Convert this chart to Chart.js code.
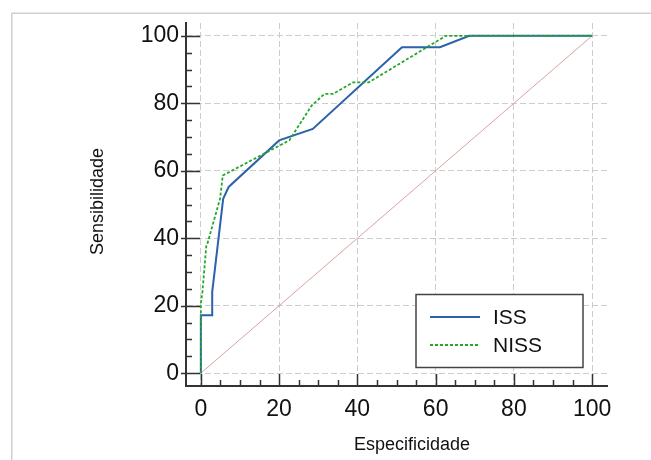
<!DOCTYPE html>
<html><head><meta charset="utf-8">
<script src="https://cdn.jsdelivr.net/npm/chart.js@4/dist/chart.umd.min.js"></script>
<style>html,body{margin:0;padding:0;background:#fff;overflow:hidden}canvas{display:block}</style>
</head><body>
<canvas id="c" width="651" height="460"></canvas>
<script>
// ROC data (x axis "Especificidade", y axis "Sensibilidade")
const issX  = [0, 0, 2.9, 2.9, 3.4, 5.7, 7.1, 20, 28.6, 51.4, 61.1, 68.6, 100];
const issY  = [0, 17.2, 17.2, 24.1, 29, 51.7, 55.2, 69, 72.4, 96.6, 96.6, 100, 100];
const nissX = [0, 0, 0.4, 1.4, 1.7, 4.9, 5.6, 22.6, 28.3, 31.6, 33.8, 38.9, 42.9, 62.6, 100];
const nissY = [0, 20.7, 24.1, 37.9, 38.5, 51.7, 58.6, 69, 79.3, 82.8, 82.8, 86.2, 86.2, 100, 100];
const refX  = [0, 100];
const refY  = [0, 100];
const xTickValues = [0, 20, 40, 60, 80, 100];
const yTickValues = [0, 20, 40, 60, 80, 100];
const minorTickValues = [0,5,10,15,20,25,30,35,40,45,50,55,60,65,70,75,80,85,90,95,100];
const seriesLabels = ['ISS', 'NISS'];
const xTitle = 'Especificidade';
const yTitle = 'Sensibilidade';

const FONT = '"Liberation Sans", Arial, sans-serif';
const toPts = (xs, ys) => xs.map((v, i) => ({x: v, y: ys[i]}));

const decor = {
  id: 'decor',
  beforeDraw(chart) {
    const ctx = chart.ctx;
    ctx.save();
    ctx.fillStyle = '#fff';
    ctx.fillRect(0, 0, chart.width, chart.height);
    ctx.strokeStyle = '#cfcfcf';
    ctx.lineWidth = 1.5;
    ctx.strokeRect(11.75, 13.25, 800, 600);
    ctx.restore();
  },
  afterDraw(chart) {
    const {ctx, chartArea: a, scales: {x, y}} = chart;
    ctx.save();
    // inward tick marks (major + minor)
    ctx.strokeStyle = '#333';
    ctx.lineWidth = 1.5;
    ctx.beginPath();
    minorTickValues.forEach(v => {
      const major = xTickValues.includes(v);
      const px = Math.round(x.getPixelForValue(v)) + 0.5;
      ctx.moveTo(px, a.bottom);
      ctx.lineTo(px, a.bottom - (major ? 12 : 6));
      const py = Math.round(y.getPixelForValue(v)) + 0.5;
      ctx.moveTo(a.left - (major ? 5 : 0), py);
      ctx.lineTo(a.left + (major ? 14 : 6), py);
    });
    ctx.stroke();

    // legend box
    const bx = 416, by = 294.5, bw = 167, bh = 73;
    ctx.fillStyle = '#fff';
    ctx.fillRect(bx, by, bw, bh);
    ctx.strokeStyle = '#444';
    ctx.lineWidth = 1.5;
    ctx.strokeRect(bx, by, bw, bh);
    ctx.font = '21px ' + FONT;
    ctx.textBaseline = 'middle';
    ctx.textAlign = 'left';
    chart.data.datasets.forEach(ds => {
      const idx = seriesLabels.indexOf(ds.label);
      if (idx < 0) return;
      const ly = 317 + idx * 28;
      ctx.save();
      ctx.strokeStyle = ds.borderColor;
      ctx.lineWidth = ds.borderWidth;
      ctx.setLineDash(ds.borderDash || []);
      ctx.beginPath();
      ctx.moveTo(430, ly);
      ctx.lineTo(480, ly);
      ctx.stroke();
      ctx.restore();
      ctx.fillStyle = '#111';
      ctx.fillText(ds.label, 493, ly + 1);
    });

    // axis titles
    ctx.fillStyle = '#111';
    ctx.font = '18px ' + FONT;
    ctx.textAlign = 'center';
    ctx.textBaseline = 'alphabetic';
    ctx.fillText(xTitle, 412, 449.5);
    ctx.save();
    ctx.translate(102.5, 201.5);
    ctx.rotate(-Math.PI / 2);
    ctx.fillText(yTitle, 0, 0);
    ctx.restore();
    ctx.restore();
  }
};

new Chart(document.getElementById('c'), {
  type: 'scatter',
  data: {
    datasets: [
      {label: 'ISS', data: toPts(issX, issY), showLine: true, borderColor: '#2b62a9', borderWidth: 2,
       pointRadius: 0, tension: 0, order: 1},
      {label: 'NISS', data: toPts(nissX, nissY), showLine: true, borderColor: '#22a82a', borderWidth: 1.8,
       borderDash: [3, 2], pointRadius: 0, tension: 0, order: 0},
      {label: 'ref', data: toPts(refX, refY), showLine: true, borderColor: '#d8a4a4', borderWidth: 1,
       pointRadius: 0, tension: 0, order: 2}
    ]
  },
  options: {
    responsive: false,
    animation: false,
    devicePixelRatio: 1,
    layout: {padding: {left: 0, right: 44, top: 23, bottom: 0}},
    plugins: {legend: {display: false}, tooltip: {enabled: false}},
    scales: {
      x: {
        type: 'linear', min: -3.8, max: 103.8,
        afterBuildTicks: s => { s.ticks = xTickValues.map(v => ({value: v})); },
        afterFit: s => { s.height = 74; },
        grid: {color: '#cdcdcd', lineWidth: 1, drawTicks: false},
        border: {display: true, color: '#333', width: 2, dash: [6, 3]},
        ticks: {color: '#111', font: {family: FONT, size: 23}, padding: 10, maxRotation: 0}
      },
      y: {
        type: 'linear', min: -3.8, max: 103.8,
        afterBuildTicks: s => { s.ticks = yTickValues.map(v => ({value: v})); },
        afterFit: s => { s.width = 186; },
        grid: {color: '#cdcdcd', lineWidth: 1, drawTicks: false},
        border: {display: true, color: '#333', width: 2, dash: [6, 3]},
        ticks: {color: '#111', font: {family: FONT, size: 23}, padding: 7}
      }
    }
  },
  plugins: [decor]
});
</script>
</body></html>
